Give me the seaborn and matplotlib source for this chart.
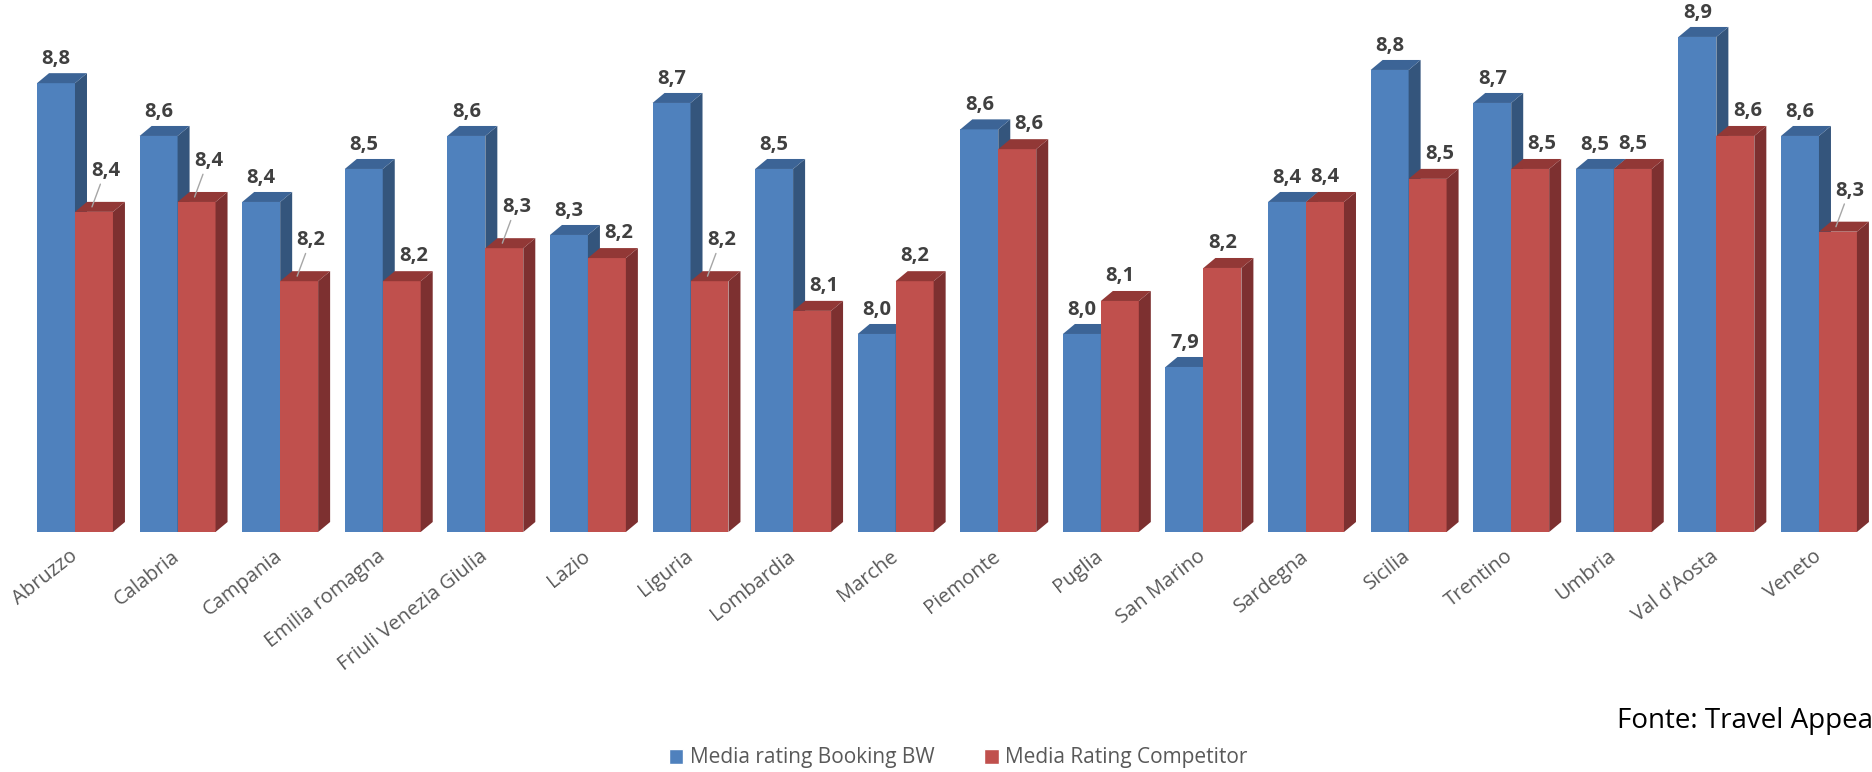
import pandas as pd
import matplotlib
matplotlib.use("Agg")
import matplotlib.pyplot as plt
from matplotlib.patches import Polygon, Patch
import seaborn as sns

# Data
regions = ["Abruzzo", "Calabria", "Campania", "Emilia romagna", "Friuli Venezia Giulia",
           "Lazio", "Liguria", "Lombardia", "Marche", "Piemonte", "Puglia", "San Marino",
           "Sardegna", "Sicilia", "Trentino", "Umbria", "Val d'Aosta", "Veneto"]
booking_bw = [8.76, 8.60, 8.40, 8.50, 8.60, 8.30, 8.70, 8.50, 8.00, 8.62, 8.00, 7.90,
              8.40, 8.80, 8.70, 8.50, 8.90, 8.60]
competitor = [8.37, 8.40, 8.16, 8.16, 8.26, 8.23, 8.16, 8.07, 8.16, 8.56, 8.10, 8.20,
              8.40, 8.47, 8.50, 8.50, 8.60, 8.31]
series_names = ["Media rating Booking BW", "Media Rating Competitor"]

# labels that Excel moved away from the bar, with a leader line
leader_regions = {"Abruzzo", "Calabria", "Campania", "Friuli Venezia Giulia", "Liguria", "Veneto"}

FRONT = ["#4F81BD", "#C0504D"]
SIDE = ["#34557C", "#7D3030"]
TOP = ["#3C6496", "#923836"]

df = pd.DataFrame({
    "region": regions * 2,
    "series": [series_names[0]] * len(regions) + [series_names[1]] * len(regions),
    "value": booking_bw + competitor,
})

sns.set_theme(style="white")
plt.rcParams["font.family"] = ["Open Sans", "DejaVu Sans"]

fig = plt.figure(figsize=(18.72, 7.72), dpi=100)
ax = fig.add_axes([0, 240 / 772, 1, 532 / 772])

sns.barplot(data=df, x="region", y="value", hue="series", palette=FRONT,
            width=0.74, saturation=1, errorbar=None, legend=False, ax=ax)

ax.set_xlim(-0.731, 17.517)
ax.set_ylim(7.4, 9.012)

# 3D depth of the bars (in data units)
DX, DY = 0.117, 0.0303
n = len(regions)
bars = list(ax.patches)
for k, p in enumerate(bars):
    s = 0 if k < n else 1
    p.set_zorder(2 + s)
    p.set_linewidth(0)
    x0 = p.get_x()
    x1 = x0 + p.get_width()
    top = p.get_height()
    base = 7.4
    side = Polygon([(x1, base), (x1 + DX, base + DY), (x1 + DX, top + DY), (x1, top)],
                   closed=True, facecolor=SIDE[s], edgecolor="none", zorder=2 + s)
    cap = Polygon([(x0, top), (x0 + DX, top + DY), (x1 + DX, top + DY), (x1, top)],
                  closed=True, facecolor=TOP[s], edgecolor="none", zorder=2 + s)
    ax.add_patch(side)
    ax.add_patch(cap)

    i = k % n
    label = f"{top:.1f}".replace(".", ",")
    cx = x0 + p.get_width() / 2
    if s == 0:
        ax.annotate(label, (cx, top), xytext=(0, 24), textcoords="offset pixels",
                    ha="center", va="center", fontsize=14.5, fontweight="bold",
                    color="#404040", zorder=10)
    else:
        shift = 12 if booking_bw[i] > competitor[i] else 0
        if regions[i] in leader_regions:
            ax.annotate(label, (cx - 2 / 102.6, top + DY / 2), xytext=(14, 36),
                        textcoords="offset pixels", ha="center", va="center",
                        fontsize=14.5, fontweight="bold", color="#404040", zorder=10,
                        arrowprops=dict(arrowstyle="-", color="#A6A6A6", lw=1,
                                        shrinkA=0, shrinkB=0, relpos=(0.35, 0)))
        else:
            ax.annotate(label, (cx, top), xytext=(shift, 25), textcoords="offset pixels",
                        ha="center", va="center", fontsize=14.5, fontweight="bold",
                        color="#404040", zorder=10)

sns.despine(ax=ax, left=True, bottom=True)
ax.set_yticks([])
ax.set_xlabel("")
ax.set_ylabel("")
ax.tick_params(axis="x", length=0, pad=16, labelsize=14.5, labelcolor="#595959")
for t in ax.get_xticklabels():
    t.set_rotation(38)
    t.set_ha("right")
    t.set_va("center")
    t.set_rotation_mode("anchor")

handles = [Patch(facecolor=FRONT[0]), Patch(facecolor=FRONT[1])]
leg = fig.legend(handles, series_names, loc="center", bbox_to_anchor=(958 / 1872, 14 / 772),
                 ncol=2, frameon=False, fontsize=15, handlelength=0.7, handleheight=0.7,
                 handletextpad=0.3, columnspacing=2.4)
for txt in leg.get_texts():
    txt.set_color("#595959")

fig.text(1617 / 1872, (772 - 721) / 772, "Fonte: Travel Appea", fontsize=20,
         ha="left", va="center", color="black")

fig.savefig("out.png", dpi=100)
